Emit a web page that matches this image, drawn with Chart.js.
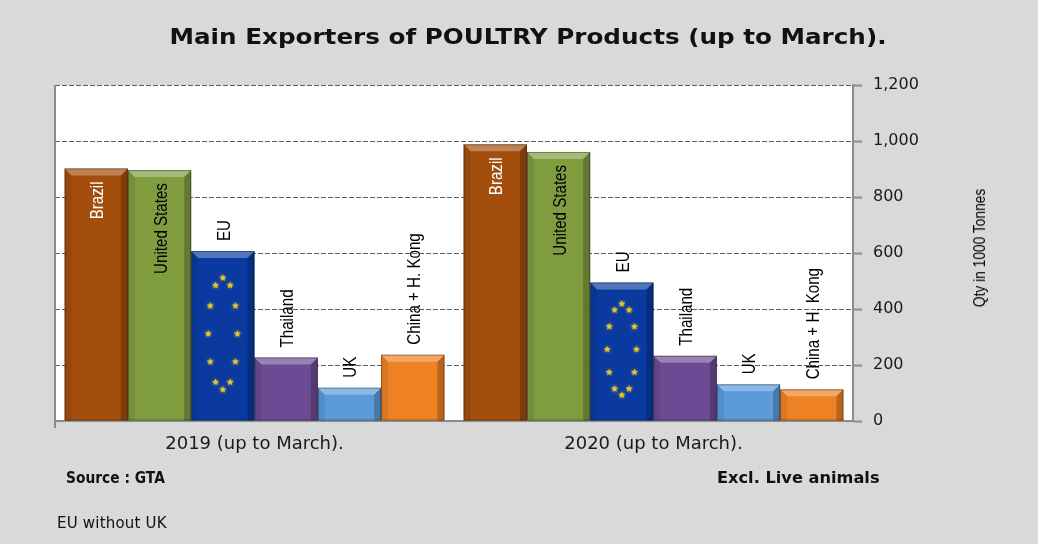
<!DOCTYPE html>
<html>
<head>
<meta charset="utf-8">
<script src="https://cdn.jsdelivr.net/npm/chart.js@4.4.0/dist/chart.umd.min.js"></script>
<style>
html, body { margin: 0; padding: 0; background: #d9d9d9; }
#wrap { position: relative; width: 1038px; height: 544px; overflow: hidden; }
#myChart { position: absolute; left: 0; top: 0; }
.txt { position: absolute; white-space: nowrap; color: #111; line-height: 1; transform-origin: 0 0; }
#title { left: 528px; top: 36px; font: bold 22px "DejaVu Sans"; transform-origin: 50% 50%; transform: translate(-50%, -50%) scaleX(1.12); }
#source { left: 66px; top: 469px; font: bold 15px "DejaVu Sans"; transform: scaleX(0.92); }
#excl { left: 717px; top: 469px; font: bold 15px "DejaVu Sans"; transform: scaleX(1.08); }
#note { left: 57px; top: 514px; font: 15px "DejaVu Sans"; letter-spacing: 0.2px; }
#ytitle { left: 980px; top: 248px; font: 16px "Liberation Sans"; color: #000; transform-origin: 50% 50%; transform: translate(-50%, -50%) rotate(-90deg) scaleX(0.86); }
</style>
</head>
<body>
<div id="wrap">
  <canvas id="myChart" width="1038" height="544"></canvas>
  <div class="txt" id="title">Main Exporters of POULTRY Products (up to March).</div>
  <div class="txt" id="ytitle">Qty in 1000 Tonnes</div>
  <div class="txt" id="source">Source : GTA</div>
  <div class="txt" id="excl">Excl. Live animals</div>
  <div class="txt" id="note">EU without UK</div>
</div>
<script>
// data, thousand tonnes
const periods = ['2019 (up to March).', '2020 (up to March).'];
const exporters = ['Brazil', 'United States', 'EU', 'Thailand', 'UK', 'China + H. Kong'];
const brazil   = [902, 988];
const usa      = [896, 961];
const eu       = [607, 495];
const thailand = [227, 233];
const uk       = [119, 131];
const china    = [237, 113];
const yTicks   = [0, 200, 400, 600, 800, 1000, 1200];

const series = [brazil, usa, eu, thailand, uk, china];
const colors = ['#A34E0C', '#7F9C3F', '#0A3AA0', '#6D4B94', '#5B9BDA', '#EE8124'];
const labelColors = ['#ffffff', '#000000', '#000000', '#000000', '#000000', '#000000'];

function draw_star(ctx, cx, cy, r){
    ctx.beginPath();
    for (let i = 0; i < 10; i++) {
        const a = -Math.PI / 2 + i * Math.PI / 5;
        const rr = i % 2 ? r * 0.45 : r;
        ctx.lineTo(cx + rr * Math.cos(a), cy + rr * Math.sin(a));
    }
    ctx.closePath();
    ctx.fill();
}

function bevel(ctx, l, r, t, b){
    const d = Math.min(7, (b - t) / 3);
    ctx.fillStyle = 'rgba(255,255,255,0.30)';
    ctx.beginPath();
    ctx.moveTo(l, t); ctx.lineTo(r, t); ctx.lineTo(r - d, t + d); ctx.lineTo(l + d, t + d);
    ctx.closePath(); ctx.fill();
    ctx.fillStyle = 'rgba(0,0,0,0.22)';
    ctx.beginPath();
    ctx.moveTo(r, t); ctx.lineTo(r, b); ctx.lineTo(r - d, b); ctx.lineTo(r - d, t + d);
    ctx.closePath(); ctx.fill();
    ctx.fillStyle = 'rgba(0,0,0,0.08)';
    ctx.beginPath();
    ctx.moveTo(l, t); ctx.lineTo(l + d, t + d); ctx.lineTo(l + d, b); ctx.lineTo(l, b);
    ctx.closePath(); ctx.fill();
    ctx.strokeStyle = 'rgba(0,0,0,0.35)';
    ctx.lineWidth = 1;
    ctx.strokeRect(l + 0.5, t + 0.5, r - l - 1, b - t - 1);
}

const plotBg = {
    id: 'plotBg',
    beforeDraw(chart){
        const {ctx, chartArea: a} = chart;
        ctx.save();
        ctx.fillStyle = '#ffffff';
        ctx.fillRect(a.left, a.top, a.right - a.left, a.bottom - a.top);
        ctx.restore();
    },
    afterDraw(chart){
        const {ctx, chartArea: a} = chart;
        ctx.save();
        ctx.strokeStyle = '#8c8c8c';
        ctx.lineWidth = 2;
        ctx.beginPath();
        ctx.moveTo(a.left, a.top);
        ctx.lineTo(a.left, a.bottom + 7);
        ctx.stroke();
        ctx.restore();
    }
};

const barDecor = {
    id: 'barDecor',
    afterDatasetsDraw(chart){
        const ctx = chart.ctx;
        ctx.save();
        chart.data.datasets.forEach(function(ds, di){
            chart.getDatasetMeta(di).data.forEach(function(bar, i){
                const p = bar.getProps(['x', 'y', 'base', 'width'], true);
                const l = p.x - p.width / 2, r = p.x + p.width / 2;
                bevel(ctx, l, r, p.y, p.base);
                if (di === 2) {
                    // EU flag stars
                    const h = p.base - p.y;
                    const cy = (p.y + p.base) / 2 - 2;
                    const rx = p.width * 0.23, ry = h * 0.33;
                    ctx.fillStyle = '#E9C526';
                    ctx.shadowColor = 'rgba(255,220,60,0.8)';
                    ctx.shadowBlur = 3;
                    for (let k = 0; k < 12; k++) {
                        const a = k * Math.PI / 6;
                        draw_star(ctx, p.x + rx * Math.sin(a), cy - ry * Math.cos(a), 3.6);
                    }
                    ctx.shadowBlur = 0;
                }
                // rotated data label
                const inside = ds.data[i] >= 800;
                ctx.save();
                ctx.translate(p.x + 2, inside ? p.y + 13 : p.y - 10);
                ctx.rotate(-Math.PI / 2);
                ctx.scale(0.84, 1);
                ctx.font = '18px "Liberation Sans"';
                ctx.fillStyle = labelColors[di];
                ctx.textBaseline = 'middle';
                ctx.textAlign = inside ? 'right' : 'left';
                ctx.fillText(ds.label, 0, 0);
                ctx.restore();
            });
        });
        ctx.restore();
    }
};

let MyChart = new Chart(document.getElementById('myChart').getContext('2d'), {
    type: 'bar',
    data: {
        labels: periods,
        datasets: exporters.map(function(name, i){
            return {
                label: name,
                data: series[i],
                backgroundColor: colors[i],
                borderWidth: 0,
                categoryPercentage: 0.952,
                barPercentage: 1.0
            };
        })
    },
    options: {
        responsive: false,
        animation: false,
        layout: { padding: { left: 55, top: 85, right: 0, bottom: 0 } },
        plugins: {
            legend: { display: false },
            tooltip: { enabled: false }
        },
        scales: {
            x: {
                grid: { display: false },
                border: { display: true, color: '#8c8c8c', width: 2 },
                ticks: { color: '#1a1a1a', font: { family: 'DejaVu Sans', size: 18 }, padding: 5 },
                afterFit: function(scale){ scale.height = 123; }
            },
            y: {
                position: 'right',
                min: 0,
                max: 1200,
                afterBuildTicks: function(scale){ scale.ticks = yTicks.map(v => ({value: v})); },
                grid: { color: '#5e5e5e', tickColor: '#8c8c8c', tickLength: 9, tickWidth: 2 },
                border: { display: true, color: '#8c8c8c', width: 2, dash: [5, 2] },
                ticks: {
                    color: '#1a1a1a',
                    padding: 11,
                    font: { family: 'DejaVu Sans', size: 16 },
                    callback: v => v.toLocaleString('en-US')
                },
                afterFit: function(scale){ scale.width = 185; }
            }
        }
    },
    plugins: [plotBg, barDecor]
});
</script>
</body>
</html>
